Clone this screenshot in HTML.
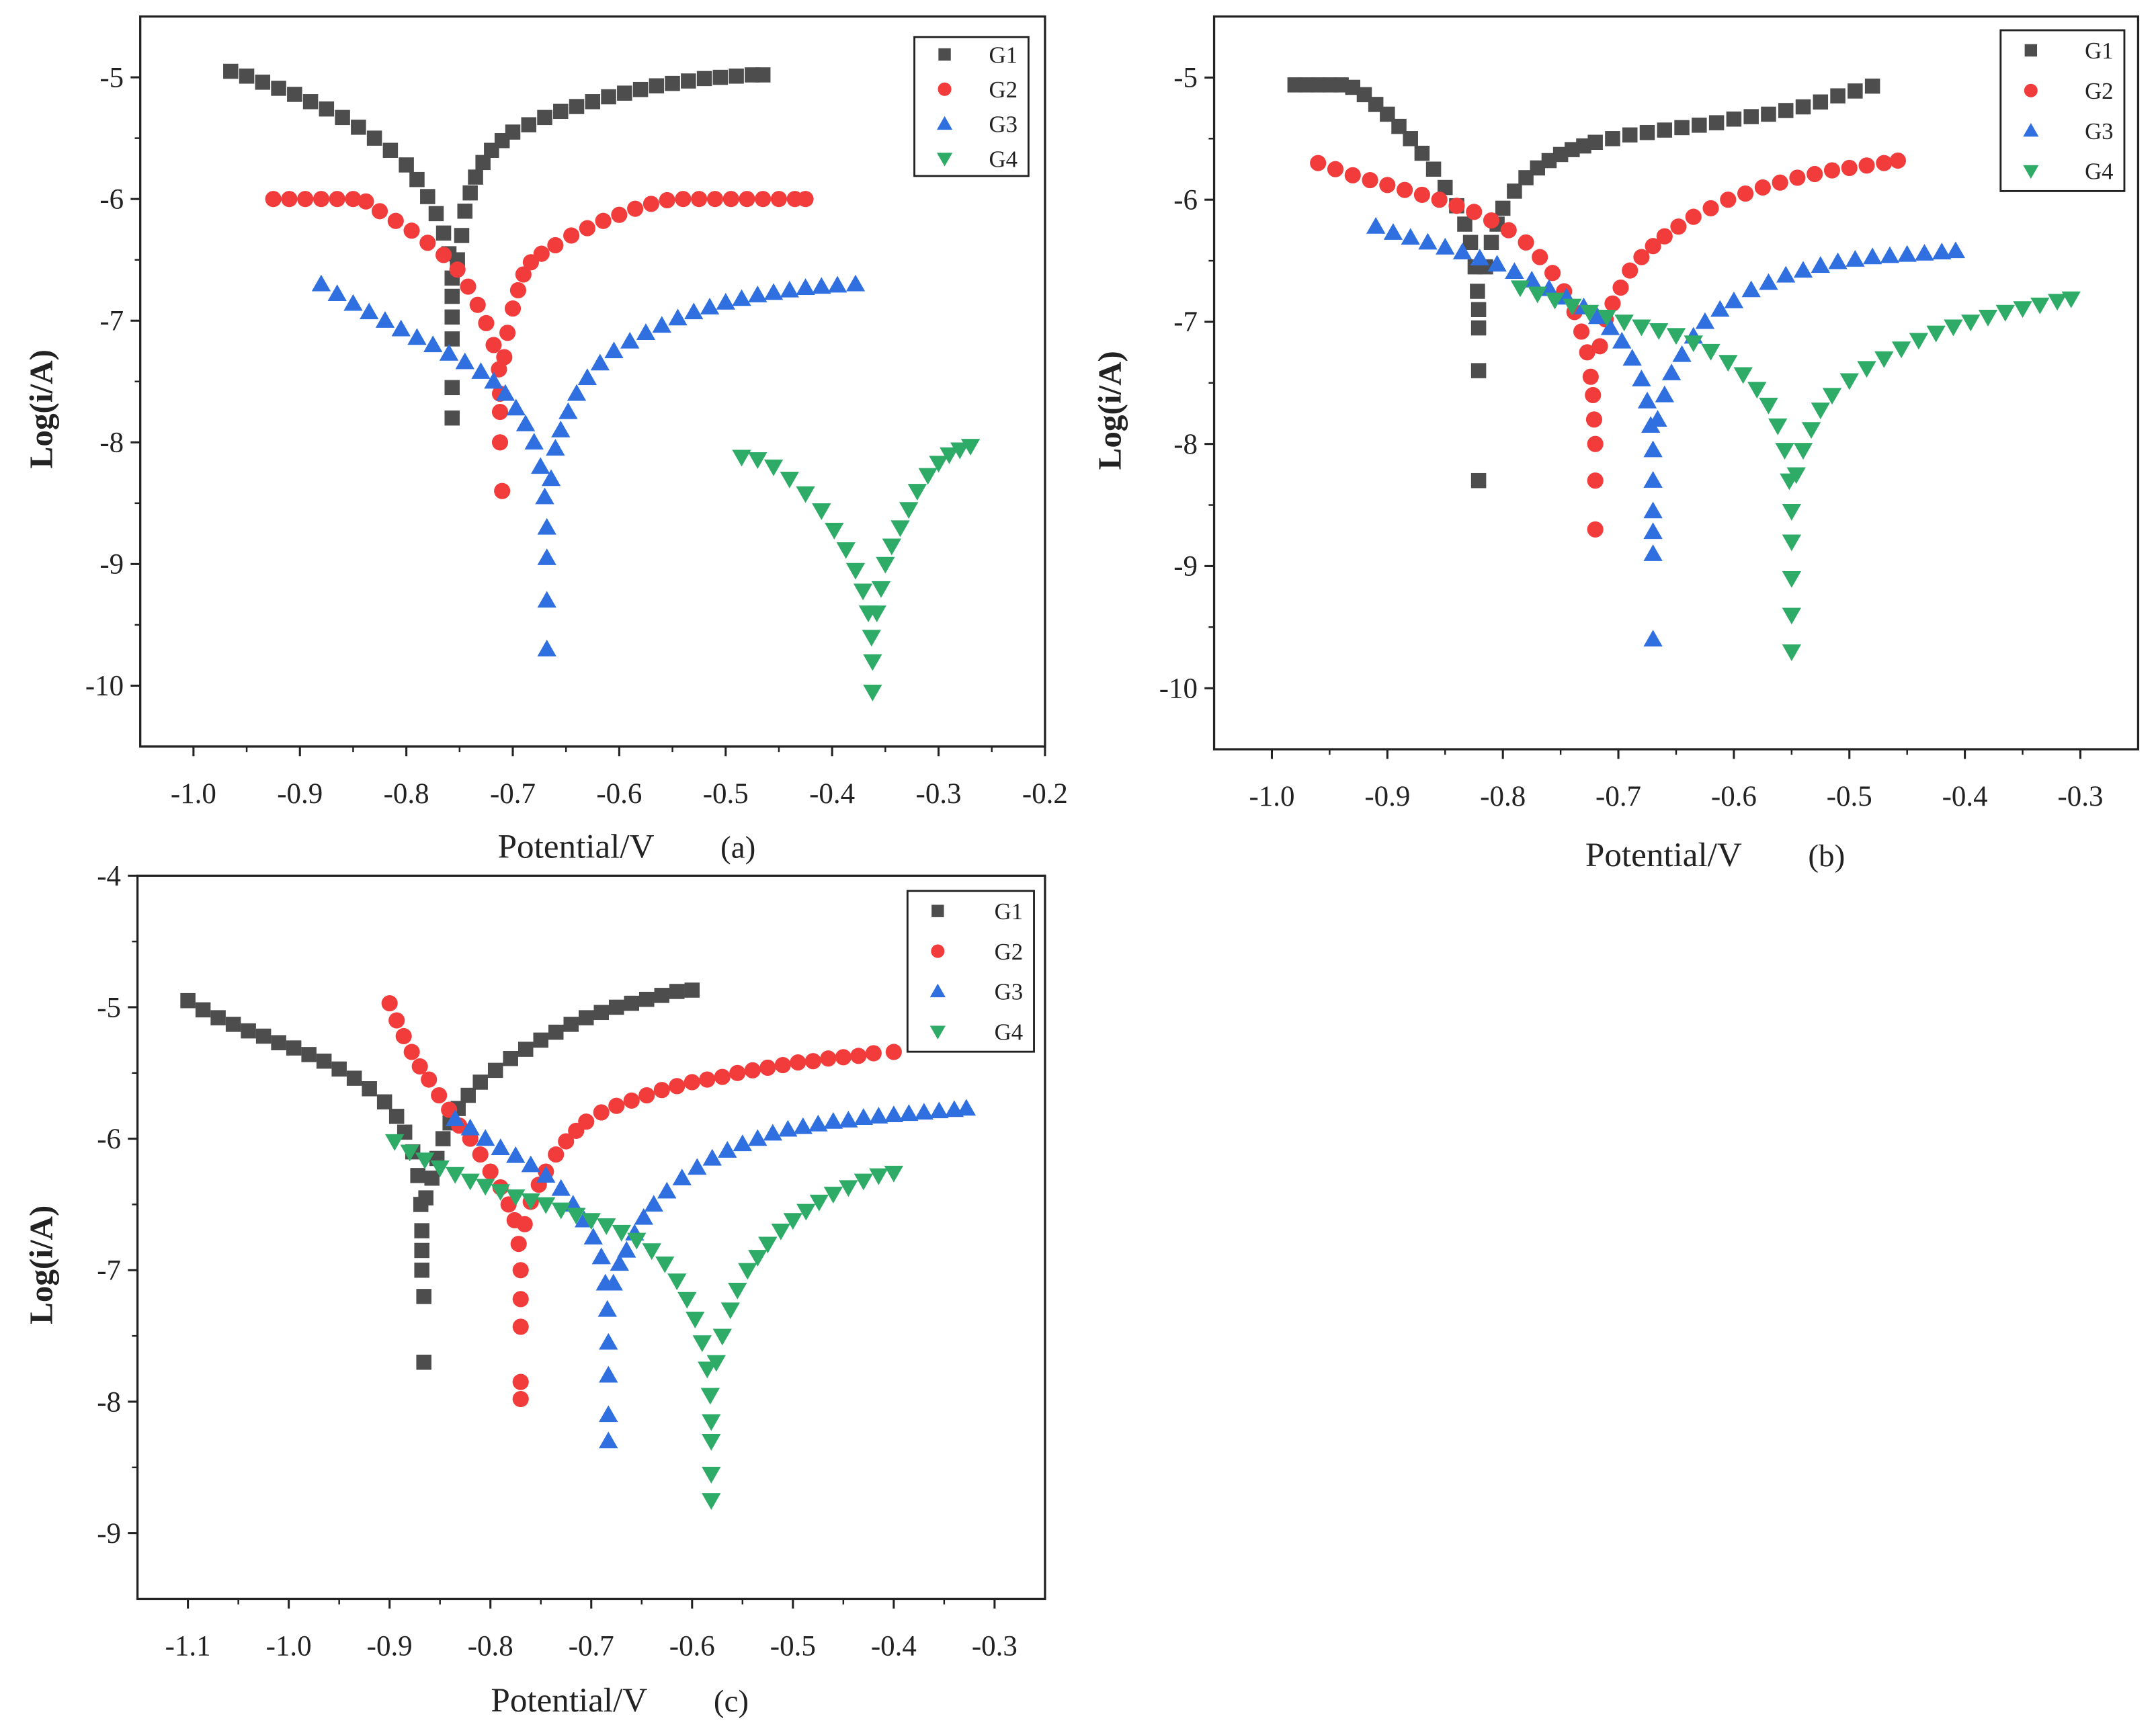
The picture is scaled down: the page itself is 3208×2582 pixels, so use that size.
<!DOCTYPE html>
<html><head><meta charset="utf-8"><style>
html,body{margin:0;padding:0;background:#fff}
svg{display:block}
text{font-family:"Liberation Serif",serif;fill:#222}
</style></head><body>
<svg id="fig" width="3208" height="2582" viewBox="0 0 1568 1262" preserveAspectRatio="none" xmlns="http://www.w3.org/2000/svg"></svg>
<script>
// ---------- Panel (a) data ----------
const aG1x=[-0.965,-0.95,-0.935,-0.92,-0.905,-0.89,-0.875,-0.86,-0.845,-0.83,-0.815,-0.80,-0.79,-0.78,-0.772,-0.765,-0.76,-0.757,-0.757,-0.757,-0.757,-0.757,-0.757,-0.752,-0.748,-0.745,-0.74,-0.735,-0.728,-0.72,-0.71,-0.70,-0.685,-0.67,-0.655,-0.64,-0.625,-0.61,-0.595,-0.58,-0.565,-0.55,-0.535,-0.52,-0.505,-0.49,-0.475,-0.465];
const aG1y=[-4.95,-4.99,-5.04,-5.09,-5.14,-5.2,-5.26,-5.33,-5.41,-5.5,-5.6,-5.72,-5.84,-5.98,-6.12,-6.28,-6.45,-6.65,-6.8,-6.97,-7.15,-7.55,-7.8,-6.5,-6.3,-6.1,-5.95,-5.82,-5.7,-5.6,-5.52,-5.45,-5.39,-5.33,-5.28,-5.24,-5.2,-5.16,-5.13,-5.1,-5.07,-5.05,-5.03,-5.01,-5.0,-4.99,-4.98,-4.98];
const aG2x=[-0.925,-0.91,-0.895,-0.88,-0.865,-0.85,-0.838,-0.825,-0.81,-0.795,-0.78,-0.765,-0.752,-0.742,-0.733,-0.725,-0.718,-0.713,-0.712,-0.712,-0.712,-0.71,-0.708,-0.705,-0.70,-0.695,-0.69,-0.683,-0.673,-0.66,-0.645,-0.63,-0.615,-0.60,-0.585,-0.57,-0.555,-0.54,-0.525,-0.51,-0.495,-0.48,-0.465,-0.45,-0.435,-0.425];
const aG2y=[-6,-6,-6,-6,-6,-6,-6.02,-6.1,-6.18,-6.26,-6.36,-6.46,-6.58,-6.72,-6.87,-7.02,-7.2,-7.4,-7.6,-7.75,-8.0,-8.4,-7.3,-7.1,-6.9,-6.75,-6.62,-6.52,-6.45,-6.38,-6.3,-6.24,-6.18,-6.13,-6.08,-6.04,-6.01,-6.0,-6.0,-6.0,-6.0,-6.0,-6.0,-6.0,-6.0,-6.0];
const aG3x=[-0.88,-0.865,-0.85,-0.835,-0.82,-0.805,-0.79,-0.775,-0.76,-0.745,-0.73,-0.718,-0.707,-0.697,-0.688,-0.68,-0.674,-0.67,-0.668,-0.668,-0.668,-0.668,-0.664,-0.66,-0.655,-0.648,-0.64,-0.63,-0.618,-0.605,-0.59,-0.575,-0.56,-0.545,-0.53,-0.515,-0.50,-0.485,-0.47,-0.455,-0.44,-0.425,-0.41,-0.395,-0.378];
const aG3y=[-6.7,-6.78,-6.86,-6.93,-7.0,-7.07,-7.14,-7.2,-7.27,-7.34,-7.42,-7.5,-7.6,-7.72,-7.85,-8.0,-8.2,-8.45,-8.7,-8.95,-9.3,-9.7,-8.3,-8.05,-7.9,-7.75,-7.6,-7.47,-7.35,-7.25,-7.17,-7.1,-7.04,-6.98,-6.93,-6.89,-6.85,-6.82,-6.79,-6.77,-6.75,-6.73,-6.72,-6.71,-6.7];
const aG4x=[-0.485,-0.47,-0.455,-0.44,-0.425,-0.41,-0.398,-0.387,-0.378,-0.371,-0.366,-0.363,-0.362,-0.362,-0.358,-0.354,-0.35,-0.344,-0.336,-0.328,-0.32,-0.31,-0.30,-0.29,-0.28,-0.27];
const aG4y=[-8.12,-8.14,-8.2,-8.3,-8.42,-8.56,-8.72,-8.88,-9.05,-9.22,-9.4,-9.6,-9.8,-10.05,-9.4,-9.2,-9.0,-8.85,-8.7,-8.55,-8.4,-8.27,-8.17,-8.1,-8.06,-8.03];
// ---------- Panel (b) data ----------
const bG1x=[-0.98,-0.97,-0.96,-0.95,-0.94,-0.93,-0.92,-0.91,-0.90,-0.89,-0.88,-0.87,-0.86,-0.85,-0.84,-0.833,-0.828,-0.824,-0.822,-0.821,-0.821,-0.821,-0.821,-0.815,-0.81,-0.805,-0.80,-0.79,-0.78,-0.77,-0.76,-0.75,-0.74,-0.73,-0.72,-0.705,-0.69,-0.675,-0.66,-0.645,-0.63,-0.615,-0.60,-0.585,-0.57,-0.555,-0.54,-0.525,-0.51,-0.495,-0.48];
const bG1y=[-5.06,-5.06,-5.06,-5.06,-5.06,-5.08,-5.14,-5.22,-5.3,-5.4,-5.5,-5.62,-5.75,-5.9,-6.05,-6.2,-6.35,-6.55,-6.75,-6.9,-7.05,-7.4,-8.3,-6.55,-6.35,-6.2,-6.07,-5.93,-5.82,-5.74,-5.68,-5.63,-5.59,-5.56,-5.53,-5.5,-5.47,-5.45,-5.43,-5.41,-5.39,-5.37,-5.34,-5.32,-5.3,-5.27,-5.24,-5.2,-5.15,-5.11,-5.07];
const bG2x=[-0.96,-0.945,-0.93,-0.915,-0.90,-0.885,-0.87,-0.855,-0.84,-0.825,-0.81,-0.795,-0.78,-0.768,-0.757,-0.747,-0.738,-0.732,-0.727,-0.724,-0.722,-0.721,-0.72,-0.72,-0.72,-0.716,-0.711,-0.705,-0.698,-0.69,-0.68,-0.67,-0.66,-0.648,-0.635,-0.62,-0.605,-0.59,-0.575,-0.56,-0.545,-0.53,-0.515,-0.50,-0.485,-0.47,-0.458];
const bG2y=[-5.7,-5.75,-5.8,-5.84,-5.88,-5.92,-5.96,-6.0,-6.05,-6.1,-6.17,-6.25,-6.35,-6.47,-6.6,-6.75,-6.92,-7.08,-7.25,-7.45,-7.6,-7.8,-8.0,-8.3,-8.7,-7.2,-6.98,-6.85,-6.72,-6.58,-6.47,-6.38,-6.3,-6.22,-6.14,-6.07,-6.0,-5.95,-5.9,-5.86,-5.82,-5.79,-5.76,-5.74,-5.72,-5.7,-5.68];
const bG3x=[-0.91,-0.895,-0.88,-0.865,-0.85,-0.835,-0.82,-0.805,-0.79,-0.775,-0.76,-0.745,-0.73,-0.718,-0.707,-0.697,-0.688,-0.68,-0.675,-0.672,-0.67,-0.67,-0.67,-0.67,-0.67,-0.67,-0.666,-0.66,-0.654,-0.645,-0.635,-0.625,-0.612,-0.60,-0.585,-0.57,-0.555,-0.54,-0.525,-0.51,-0.495,-0.48,-0.465,-0.45,-0.435,-0.42,-0.408];
const bG3y=[-6.22,-6.27,-6.31,-6.35,-6.39,-6.43,-6.48,-6.53,-6.59,-6.66,-6.73,-6.8,-6.88,-6.96,-7.05,-7.16,-7.3,-7.47,-7.65,-7.85,-8.05,-8.3,-8.55,-8.72,-8.9,-9.6,-7.8,-7.6,-7.42,-7.27,-7.12,-7.0,-6.9,-6.83,-6.74,-6.68,-6.62,-6.58,-6.54,-6.51,-6.49,-6.47,-6.46,-6.45,-6.44,-6.43,-6.42];
const bG4x=[-0.785,-0.77,-0.755,-0.74,-0.725,-0.71,-0.695,-0.68,-0.665,-0.65,-0.635,-0.62,-0.605,-0.592,-0.58,-0.57,-0.562,-0.556,-0.552,-0.55,-0.55,-0.55,-0.55,-0.55,-0.546,-0.54,-0.533,-0.525,-0.515,-0.50,-0.485,-0.47,-0.455,-0.44,-0.425,-0.41,-0.395,-0.38,-0.365,-0.35,-0.335,-0.32,-0.308];
const bG4y=[-6.72,-6.77,-6.82,-6.87,-6.92,-6.96,-7.0,-7.04,-7.07,-7.11,-7.17,-7.24,-7.33,-7.43,-7.55,-7.68,-7.85,-8.05,-8.3,-8.55,-8.8,-9.1,-9.4,-9.7,-8.25,-8.05,-7.88,-7.72,-7.6,-7.48,-7.38,-7.3,-7.22,-7.15,-7.09,-7.04,-7.0,-6.96,-6.92,-6.89,-6.86,-6.83,-6.81];
// ---------- Panel (c) data ----------
const cG1x=[-1.1,-1.085,-1.07,-1.055,-1.04,-1.025,-1.01,-0.995,-0.98,-0.965,-0.95,-0.935,-0.92,-0.905,-0.893,-0.885,-0.877,-0.872,-0.869,-0.868,-0.868,-0.868,-0.866,-0.866,-0.864,-0.858,-0.853,-0.847,-0.84,-0.832,-0.822,-0.81,-0.795,-0.78,-0.765,-0.75,-0.735,-0.72,-0.705,-0.69,-0.675,-0.66,-0.645,-0.63,-0.615,-0.60];
const cG1y=[-4.95,-5.02,-5.08,-5.13,-5.18,-5.22,-5.27,-5.31,-5.36,-5.41,-5.47,-5.54,-5.62,-5.72,-5.83,-5.95,-6.1,-6.28,-6.5,-6.7,-6.85,-7.0,-7.2,-7.7,-6.45,-6.3,-6.15,-6.0,-5.88,-5.77,-5.67,-5.57,-5.48,-5.39,-5.32,-5.25,-5.19,-5.13,-5.08,-5.04,-5.0,-4.97,-4.94,-4.91,-4.88,-4.87];
const cG2x=[-0.9,-0.893,-0.886,-0.878,-0.87,-0.861,-0.851,-0.841,-0.831,-0.82,-0.81,-0.80,-0.79,-0.782,-0.776,-0.772,-0.77,-0.77,-0.77,-0.77,-0.77,-0.766,-0.76,-0.752,-0.745,-0.735,-0.725,-0.715,-0.705,-0.69,-0.675,-0.66,-0.645,-0.63,-0.615,-0.60,-0.585,-0.57,-0.555,-0.54,-0.525,-0.51,-0.495,-0.48,-0.465,-0.45,-0.435,-0.42,-0.40];
const cG2y=[-4.97,-5.1,-5.22,-5.34,-5.45,-5.55,-5.67,-5.78,-5.9,-6.0,-6.12,-6.25,-6.37,-6.5,-6.62,-6.8,-7.0,-7.22,-7.43,-7.85,-7.98,-6.65,-6.48,-6.35,-6.25,-6.12,-6.02,-5.94,-5.87,-5.8,-5.75,-5.71,-5.67,-5.63,-5.6,-5.57,-5.55,-5.53,-5.5,-5.48,-5.46,-5.44,-5.42,-5.41,-5.39,-5.38,-5.37,-5.35,-5.34];
const cG3x=[-0.835,-0.82,-0.805,-0.79,-0.775,-0.76,-0.745,-0.73,-0.718,-0.707,-0.698,-0.69,-0.686,-0.684,-0.683,-0.683,-0.683,-0.683,-0.678,-0.672,-0.665,-0.657,-0.648,-0.638,-0.625,-0.61,-0.595,-0.58,-0.565,-0.55,-0.535,-0.52,-0.505,-0.49,-0.475,-0.46,-0.445,-0.43,-0.415,-0.40,-0.385,-0.37,-0.355,-0.34,-0.328];
const cG3y=[-5.85,-5.92,-6.0,-6.07,-6.13,-6.2,-6.28,-6.38,-6.5,-6.62,-6.75,-6.9,-7.1,-7.3,-7.55,-7.8,-8.1,-8.3,-7.1,-6.95,-6.85,-6.72,-6.6,-6.5,-6.4,-6.3,-6.22,-6.15,-6.09,-6.04,-6.0,-5.96,-5.93,-5.91,-5.89,-5.87,-5.86,-5.84,-5.83,-5.82,-5.81,-5.8,-5.79,-5.78,-5.77];
const cG4x=[-0.895,-0.88,-0.865,-0.85,-0.835,-0.82,-0.805,-0.79,-0.775,-0.76,-0.745,-0.73,-0.715,-0.70,-0.685,-0.67,-0.655,-0.64,-0.627,-0.615,-0.605,-0.597,-0.59,-0.585,-0.582,-0.581,-0.581,-0.581,-0.581,-0.576,-0.57,-0.562,-0.555,-0.545,-0.535,-0.525,-0.512,-0.50,-0.487,-0.474,-0.46,-0.445,-0.43,-0.415,-0.40];
const cG4y=[-6.02,-6.1,-6.16,-6.22,-6.27,-6.32,-6.36,-6.4,-6.44,-6.47,-6.5,-6.54,-6.58,-6.62,-6.66,-6.71,-6.77,-6.85,-6.95,-7.08,-7.22,-7.37,-7.55,-7.75,-7.95,-8.15,-8.3,-8.55,-8.75,-7.7,-7.5,-7.3,-7.15,-7.0,-6.9,-6.8,-6.7,-6.62,-6.55,-6.48,-6.42,-6.37,-6.32,-6.28,-6.26];
// ---------- Tick labels ----------
const aXTicks=[-1.0,-0.9,-0.8,-0.7,-0.6,-0.5,-0.4,-0.3,-0.2];
const aYTicks=[-5,-6,-7,-8,-9,-10];
const bXTicks=[-1.0,-0.9,-0.8,-0.7,-0.6,-0.5,-0.4,-0.3];
const bYTicks=[-5,-6,-7,-8,-9,-10];
const cXTicks=[-1.1,-1.0,-0.9,-0.8,-0.7,-0.6,-0.5,-0.4,-0.3];
const cYTicks=[-4,-5,-6,-7,-8,-9];
const seriesNames=["G1","G2","G3","G4"];

const NS="http://www.w3.org/2000/svg";
const svg=document.getElementById('fig');
const COLORS=["#4d4d4d","#f23c3c","#2f6fe0","#2fab68"];
function mk(tag,attrs,parent){const e=document.createElementNS(NS,tag);for(const k in attrs)e.setAttribute(k,attrs[k]);(parent||svg).appendChild(e);return e;}
function marker(g,kind,cx,cy,s){
  let e;
  if(kind===0){e=mk('rect',{x:cx-s/2,y:cy-s/2,width:s,height:s,fill:COLORS[0]},g);}
  else if(kind===1){e=mk('circle',{cx:cx,cy:cy,r:s/2+0.4,fill:COLORS[1]},g);}
  else if(kind===2){const h=s*1.05;e=mk('polygon',{points:`${cx},${cy-h*0.6} ${cx-h*0.6},${cy+h*0.45} ${cx+h*0.6},${cy+h*0.45}`,fill:COLORS[2]},g);}
  else {const h=s*1.05;e=mk('polygon',{points:`${cx},${cy+h*0.6} ${cx-h*0.6},${cy-h*0.45} ${cx+h*0.6},${cy-h*0.45}`,fill:COLORS[3]},g);}
  return e;
}
function panel(p){
  const g=mk('g',{});
  
  
  const X=v=>p.L+(v-p.x0)/(p.x1-p.x0)*(p.R-p.L);
  const Y=v=>p.T+(p.y1-v)/(p.y1-p.y0)*(p.B-p.T);
  const frame=mk('rect',{x:p.L,y:p.T,width:p.R-p.L,height:p.B-p.T,fill:'none',stroke:'#222','stroke-width':1.6},g);
  
  
  p.xt.forEach(v=>{
    mk('line',{x1:X(v),x2:X(v),y1:p.B,y2:p.B+7,stroke:'#222','stroke-width':1.5},g);
    const m=v+0.05; if(m<p.x1) mk('line',{x1:X(m),x2:X(m),y1:p.B,y2:p.B+4,stroke:'#222','stroke-width':1.2},g);
    if(v===p.xt[0]&&v-0.05>p.x0) mk('line',{x1:X(v-0.05),x2:X(v-0.05),y1:p.B,y2:p.B+4,stroke:'#222','stroke-width':1.2},g);
    const t=mk('text',{x:X(v),y:p.B+41,'font-size':21,'text-anchor':'middle'},g);
    t.textContent=v.toFixed(1);
    
    
  });
  p.yt.forEach(v=>{
    mk('line',{x1:p.L-7,x2:p.L,y1:Y(v),y2:Y(v),stroke:'#222','stroke-width':1.5},g);
    const m=v-0.5; if(m>p.y0) mk('line',{x1:p.L-4,x2:p.L,y1:Y(m),y2:Y(m),stroke:'#222','stroke-width':1.2},g);
    if(v===p.yt[0]&&v+0.5<p.y1) mk('line',{x1:p.L-4,x2:p.L,y1:Y(v+0.5),y2:Y(v+0.5),stroke:'#222','stroke-width':1.2},g);
    const t=mk('text',{x:p.L-12,y:Y(v)+7,'font-size':21,'text-anchor':'end'},g);
    t.textContent=String(v);
    
    
  });
  const yt=mk('text',{x:0,y:0,'font-size':24,'text-anchor':'middle','font-weight':'bold',transform:`translate(${p.ytx},${(p.T+p.B)/2+20}) rotate(-90)`},g);
  yt.textContent='Log(i/A)';
  
  
  const xt=mk('text',{x:p.xtx,y:p.xty,'font-size':25},g);
  xt.textContent='Potential/V';
  
  
  const pl=mk('text',{x:p.xtx+162,y:p.xty,'font-size':23},g);
  pl.textContent='('+p.id+')';
  
  
  p.data.forEach((d,i)=>{
    const sg=mk('g',{},g);
    
    
    d[0].forEach((xv,j)=>{
      const m=marker(sg,i,X(xv),Y(d[1][j]),11);
      
      
    });
  });
  const lg=mk('g',{},g);
  
  
  mk('rect',{x:p.lx,y:p.ly,width:p.lw,height:p.lh,fill:'#fff',stroke:'#222','stroke-width':1.4},lg);
  seriesNames.forEach((n,i)=>{
    const cy=p.ly+p.lh*(i+0.5)/4;
    const e=mk('g',{},lg);
    
    
    marker(e,i,p.lx+22,cy,9);
    const t=mk('text',{x:p.lx+p.lw-8,y:cy+6,'font-size':17,'text-anchor':'end'},e);
    t.textContent=n;
  });
}
panel({id:'a',L:102,R:760,T:12,B:543,x0:-1.05,x1:-0.2,y0:-10.5,y1:-4.5,xt:aXTicks,yt:aYTicks,ytx:38,xtx:362,xty:624,
  lx:665,ly:27,lw:83,lh:101,data:[[aG1x,aG1y],[aG2x,aG2y],[aG3x,aG3y],[aG4x,aG4y]]});
panel({id:'b',L:883,R:1555,T:12,B:545,x0:-1.05,x1:-0.25,y0:-10.5,y1:-4.5,xt:bXTicks,yt:bYTicks,ytx:815,xtx:1153,xty:630,
  lx:1455,ly:22,lw:90,lh:117,data:[[bG1x,bG1y],[bG2x,bG2y],[bG3x,bG3y],[bG4x,bG4y]]});
panel({id:'c',L:100,R:760,T:637,B:1163,x0:-1.15,x1:-0.25,y0:-9.5,y1:-4,xt:cXTicks,yt:cYTicks,ytx:38,xtx:357,xty:1245,
  lx:660,ly:648,lw:92,lh:117,data:[[cG1x,cG1y],[cG2x,cG2y],[cG3x,cG3y],[cG4x,cG4y]]});
</script>
</body></html>
